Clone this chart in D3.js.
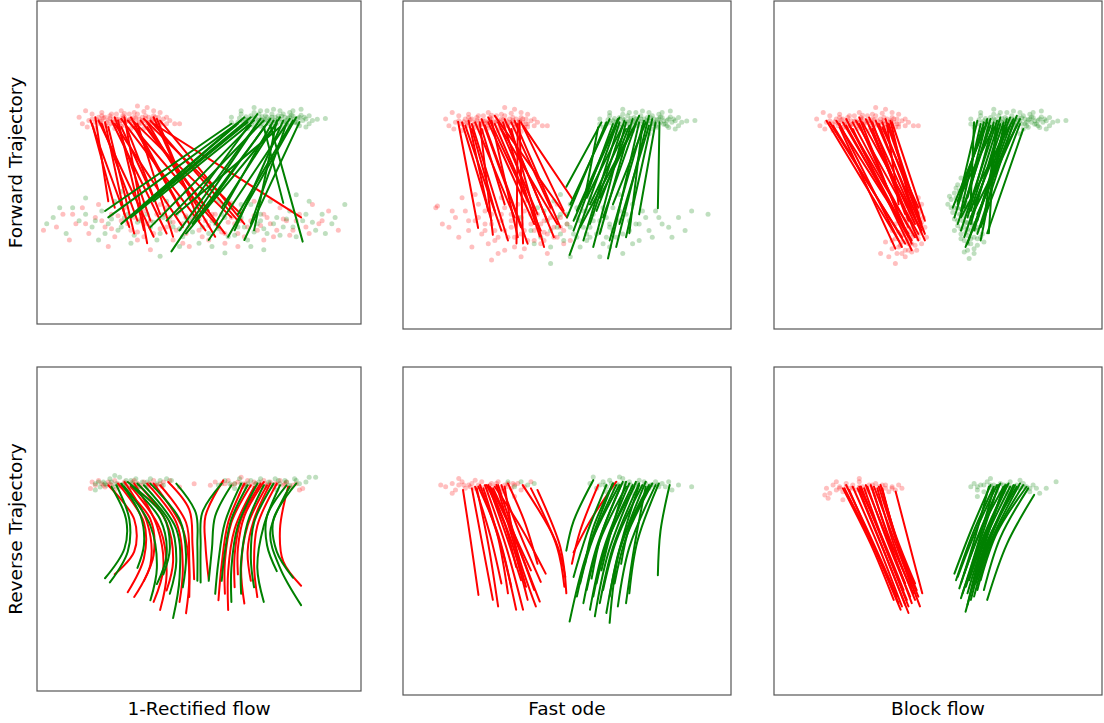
<!DOCTYPE html>
<html>
<head>
<meta charset="utf-8">
<script src="https://cdn.jsdelivr.net/npm/d3@7"></script>
<style>
  body { margin: 0; background: #fff; }
  text { font-family: "DejaVu Sans", sans-serif; }
</style>
</head>
<body>
<svg id="chart" width="1104" height="723"></svg>
<script>
// all values in panel data units: x 0..100 (left->right), y 0..100 (top->bottom)

const rowLabels = ["Forward Trajectory", "Reverse Trajectory"];
const colLabels = ["1-Rectified flow", "Fast ode", "Block flow"];

// source samples, shared by the three forward panels
const srcRed = [[16,37],[17,36.5],[18,37.5],[19,36],[19.5,38],[20,37],[21,36],[21,38.5],[22,37],[22.5,35.5],[23,38],[23.5,36.5],[24,37.5],[24.5,35],[25,36.5],[25.5,38],[26,37],[26.5,35.5],[27,36],[27,38.5],[28,37],[28.5,35],[29,36.5],[29.5,38],[30,36],[30.5,37.5],[31,35],[31,32.5],[31.5,36.5],[32,38],[32.5,36],[33,37],[33.5,35.5],[34,37.5],[34.5,36],[35,38],[35.5,36.5],[36,35.5],[36.5,37],[37,38.5],[37.5,36],[38,37.5],[39,36.5],[40,38],[15,34],[14,38],[15.5,39],[18,39.5],[24,39.5],[34,33],[42.5,38],[44,38],[38,34.5],[29,39.5],[20,34.5],[26,34],[33,39.5],[36,39.8],
  [18.5,36.8],[19.5,37.2],[20.5,36.2],[21.5,37.6],[22.5,36.4],[23.5,37.8],[24.5,36.6],[25.5,37.2],[26.5,36.2],[27.5,37.4],[28.5,36.6],[29.5,37],[30.5,36.2],[31.5,37.8],[32.5,37],[33.5,36.4],[34.5,37.6],[35.5,37],[36.5,36],[37.5,37.4],[20,35.5],[23,35],[27,34.8],[30,34.5],[33,34.2],[36,34],[22,38.6],[26,38.8],[30,38.8],[34,38.6],[38,38.4],[40,36],[41,37],[17,35],[13,36]];
const srcGreen = [[60,36],[62,37.5],[63,35],[64,36.5],[64.5,38],[65,37],[66,35.5],[66.5,38.5],[67,33],[67,36],[68,37.5],[68.5,35],[69,36.5],[69.5,38],[70,37],[70.5,35.5],[71,36],[71.5,38],[72,36.5],[72.5,35],[73,37.5],[73.5,36],[74,38],[74.5,35.5],[75,36.5],[75.5,37.5],[76,35],[76.5,36],[77,37],[77.5,38.5],[78,36],[78.5,37],[79,35.5],[79.5,36.5],[80,37.5],[80.5,38],[81,36],[81.5,33.5],[82,37],[83,36.5],[84,38],[86.5,36.6],[89,36.4],[61,38.5],[65,39.5],[70,39.5],[76,39],[73,33.5],[69,34],[78,34.5],[63,34],[75,40.5],[83,39],
  [62.5,36.2],[63.5,37.2],[64.5,35.8],[65.5,36.6],[66.5,37.4],[67.5,36.2],[68.5,37],[69.5,35.8],[70.5,36.8],[71.5,37.2],[72.5,36],[73.5,37],[74.5,36.4],[75.5,35.6],[76.5,37.4],[77.5,36.2],[78.5,35.4],[79.5,37.6],[80.5,36.4],[81.5,35.4],[82.5,36],[67,34.5],[71,34],[75,34],[79,34],[65,38.6],[69,38.8],[73,38.8],[77,38],[81,38.6],[84,35.5],[85,37],[60,37.5]];

// forward, 1-rectified flow
const rfRedEnd = [[2,71],[8,66],[12,69],[14,64],[16,72],[18,67],[19,63],[21,70],[23,66],[24,73],[26,68],[27,64],[29,71],[30,67],[31,74],[33,65],[34,69],[36,72],[37,66],[38,63],[40,70],[41,67],[42,74],[44,65],[45,69],[46,72],[48,67],[49,64],[50,71],[52,68],[53,74],[54,66],[56,70],[57,63],[58,72],[60,67],[61,69],[63,65],[64,73],[66,68],[67,62],[68,71],[70,66],[72,69],[73,73],[75,64],[77,68],[79,71],[81,66],[83,70],[85,63],[88,68],[90,65],[93,71],[10,74],[22,76],[35,77],[47,76],[55,60],[62,76],[44,61],[28,60],
  [20,68],[23,70.5],[25,66.5],[28,69],[31,71.5],[32,67.5],[35,68],[38,70.5],[39,66],[42,68.5],[43,71],[46,66.5],[47,70],[50,67.5],[51,73],[53,69.5],[55,66],[57,71.5],[59,68.5],[62,72],[63,68],[65,70],[67,66.5],[69,69.5],[71,67],[74,71],[76,67.5],[78,72.5],[80,68],[84,72],[87,69],[15,69],[11,66],[6,70],[33,73],[45,75],[58,75],[70,74],[48,62],[60,62.5],[52,64.5],[40,64]];
const rfGreenEnd = [[5,67],[9,72],[11,64],[13,68],[15,66],[17,70],[20,65],[22,69],[24,62],[25,71],[28,66],[29,75],[32,68],[33,63],[35,70],[37,74],[39,67],[40,62],[42,70],[43,66],[45,73],[47,68],[49,62],[51,70],[52,65],[54,76],[55,69],[57,66],[59,73],[60,64],[62,70],[63,67],[65,74],[66,63],[68,69],[69,66],[71,72],[72,62],[74,67],[76,70],[78,65],[80,73],[82,68],[84,62],[86,71],[88,66],[91,69],[95,63],[38,79],[26,59],[58,78],[70,77],[19,74],[46,59],[80,60],[15,61],
  [18,68],[21,72],[23,67.5],[26,70],[27,67],[30,72.5],[31,68.5],[34,66],[36,68.5],[38,72],[41,68.5],[44,70.5],[46,67],[48,71.5],[50,66.5],[53,72],[54,68],[56,70.5],[58,67],[61,72.5],[62,68],[64,70],[67,71.5],[69,68],[70,70.5],[73,69],[75,72.5],[77,67.5],[79,70],[83,66],[85,68.5],[89,72],[92,67],[7,64],[3,69],[50,75],[44,76],[66,76],[36,61],[56,62],[63,63]];
const rfRedFwd = [[16.5,37,28.5,70],[17,38,24,64],[18,36,22,62],[19,37,36,73],[20,38,31,68],[21,37.5,27,66],[22,39,30,72],[23,37,40,72],[24,38,45,70],[25,37,33,71],[26,36.5,52,71],[26,39,36,61],[27,37.5,38,66],[28,37,56,70],[29,36,47,69],[30,37.5,60,67],[30,39,44,64],[31,38,42,73],[32,37,58,72],[33,36.5,63,66],[34,37.5,55,73],[34,39,53,65],[35,37,62,68],[36,38,81.5,67],[36,36,48,63],[37,36.5,50,68],[38,37,64,69],[27,36,34,75],[24,36,35,68]];
const rfGreenFwd = [[60,38,21,65],[62,38,33,63],[63,37,22,67],[64,36,26,69],[65,37.5,29,67],[66,36,31,65],[66,38.5,35,70],[67,37,36,62],[68,38,41.5,77.5],[68,35,49,61],[69,36.5,44,71],[70,37,40,68],[70,39,76,62.5],[71,38,48,69],[72,36.5,51,66],[72,38.5,82,74.5],[73,37,55,69],[74,38,46,72],[74,37,67,71],[75,36,57,64],[75,39,43,66],[76,37,61,71],[77,38,66,69],[78,36.5,53,74],[79,37,62,66],[80,36,59,73],[81,37.5,64,74]];

// forward, fast ode
const foRedEnd = [[10,63],[10.5,62.5],[14,69],[16,66],[17,72],[19,64],[20,70],[21,75],[22,67],[23,62],[24,71],[25,68],[26,74],[27,65],[28,70],[29,77],[30,67],[31,63],[32,72],[33,69],[34,75],[35,66],[36,71],[37,64],[38,73],[39,68],[40,70],[41,65],[42,74],[43,67],[44,71],[45,63],[46,69],[47,72],[48,66],[49,70],[50,68],[51,73],[22,59],[30,60],[38,61],[27,79],[36,78],[44,77],[18,60],[47,62],[33,65],[41,69],[29,72],[35,62],[25,64],[43,73],
  [23,66],[25,70],[27,68],[28,73],[30,65],[31,70],[33,67],[34,72],[36,68],[37,70],[39,65],[40,73],[42,68],[43,70.5],[45,66],[46,72],[48,69],[49,74],[37,75.5],[31,76],[20,67],[15,64],[12,68],[26,61]];
const foGreenEnd = [[36,66],[39,70],[41,63],[42,72],[44,67],[45,75],[46,61],[47,69],[48,65],[49,73],[50,68],[51,62],[52,71],[53,66],[54,75],[55,69],[56,64],[57,72],[58,67],[59,61],[60,70],[61,74],[62,66],[63,69],[64,63],[65,72],[66,67],[67,77],[68,65],[69,70],[70,62],[71,68],[72,73],[74,66],[75,70],[77,64],[79,68],[82,72],[84,66],[93,65],[45,80],[51,78],[60,78],[48,59],[57,60],[66,59],[63,75],[40,74],[56,71],[53,63],
  [43,64],[45,70],[47,66],[48,71],[50,65],[51,69],[53,72],[54,67],[55,64],[56,73],[57,69],[58,65],[59,71],[60,67],[61,63],[62,72],[63,68],[64,70],[66,64],[67,71],[69,67],[70,74],[72,68],[73,64],[76,72],[78,66],[81,69],[86,70],[88,64]];
const foRedFwd = [[16.8,36.8,22.9,69.2],[18,37,27,67],[19,38,30,70],[20,36.5,26,64],[21,37.5,32,73],[22,37,34,66],[23.4,37,27.4,71.3],[24,36,36,69],[25,38,38,74],[26,37,40,68],[27,36.5,35,72],[28,37.5,42,70],[29,37,41,65],[30.5,37,41.7,71.8],[31,36,44,67],[32,38,46,72],[33,37,45,63],[34,36.5,48,69],[35,37.5,34.6,73.9],[35.5,36.5,36.6,73.9],[36,37,49,64],[36.6,38,51.8,60.6],[30,39,47,68],[28,35,50,66],[24,39,31,62],[33,39,43,75],[26,35.5,38,61],[21,39,28,64]];
const foGreenFwd = [[60.5,37,49.8,56.6],[59.5,38.5,55.8,58],[62,37,50,66],[63,36,51,62],[64,37.5,52,70],[65,38,50.8,77.4],[65.5,36,53,64],[66,37,55,73],[67,38,56,60],[67.5,36.5,57,68],[68,37,58,75],[69,38,59,64],[70,36,60,71],[71,37.5,61,66],[72,37,62.5,78.5],[73,38,69,70.8],[73.5,36.5,63,73],[74,37,64,62],[75,38,66,68],[76,36,68,72],[77,37,72,65],[78.2,37,77.7,63.2],[70,39,54,69],[68,39,57,62],[72,35,60,60],[66,35.5,52,67],[75,35,65,75]];

// forward, block flow
const bfRedEnd = [[44,60],[43,61.5],[45,62],[42,63],[44.5,64],[41,64.5],[43,65.5],[45.5,66],[40,66.5],[42,67],[44,68],[39,68.5],[41,69],[43,70],[45,70],[38,70.5],[40,71],[42,72],[44,72.5],[37,72.5],[39,73.5],[41,74],[43,74.5],[38,75],[40,76],[36,75.5],[42,76.5],[39,77],[35,78],[37,80],[32.5,77],[46,69],[46.5,72],[45,74],[41,66],[38,67],[43,63],[40,62.5],[36,70],[37,68],[34,73.5],[42,69.5],[44,66.5],[39,71.5],[41,72.5],[43,71.5],
  [42.5,61],[44,62.5],[41.5,65],[44,65],[42.5,66.5],[40.5,67.5],[43.5,67],[45,67.5],[41.5,70.5],[42.5,71],[39.5,70],[44,71],[40.5,73],[42,74],[38.5,74.5],[41,76],[37.5,77],[40,78],[36,73],[43.5,76]];
const bfGreenEnd = [[57,54],[56,56],[58,57],[55,58.5],[57,59.5],[54,60.5],[56,61],[58.5,61.5],[53,62],[55,63],[57,63.5],[59,63],[54.5,64.5],[56.5,65],[58,65.5],[60,66],[55,66.5],[57.5,67],[59,67.5],[61,68],[56,68.5],[58,69],[60,70],[62,70],[57,71],[59,71.5],[61,72],[58,73],[60,74],[62,74.5],[59,76],[61,75.5],[59.5,78.5],[63,72],[64,73.5],[53.5,59.5],[55.5,57],[62,69],[63.5,71],[57,72.5],[59,69.5],[60.5,68.5],
  [56.5,58],[57.5,60.5],[55.5,60],[58,62.5],[56,63],[54,63],[57,65],[59,64.5],[56,67],[58.5,67.5],[60,67.5],[57,69.5],[61,69.5],[58.5,70.5],[60,72.5],[62,72.5],[59,74],[61,77],[58,76.5],[55,70]];
const bfRedFwd = [[16,36.5,38,73],[17,37,39,72],[18,38,40,74],[19,36.5,41,71],[20,37.5,39,75],[21,37,42,73],[22,36,40,70],[23,38,43,72],[24,37,41,69],[25,36.5,44,71],[26,37.5,42,74],[27,37,45,70],[28,36,43,68],[29,38,44,73],[30,37,41,67],[31,36.5,45,69],[32,37.5,43,66],[33,37,46,71],[34,36,44,65],[35,37.5,45,68],[35.5,36.5,42,64],[36,37,46,67],[34.5,38,38,62],[30,39,40,65],[26,35.5,39,68],[20,38.5,37,75.5],[24,39,42,76],[29,35.5,46,73],[33,38.5,44,63],[22,38,41,72]];
const bfGreenFwd = [[61,37,60,60.5],[62,36.5,56,62],[63,37.5,57,64],[64,37,55,66],[65,36,58,63],[66,38,56,68],[67,37,59,66],[68,36.5,57,70],[69,37.5,60,68],[70,37,58,72],[71,36,61,70],[72,38,59,74],[73,37,62,71],[74,35,58.4,75],[75,37.5,63,69],[76,39,65,70.8],[67,38.5,56,61],[69,35.5,60,64],[71,38.5,62,67],[73,36,57,66],[65,37,54.5,63],[70,38,63,73],[72,35.5,61,62],[68,39,64,67],[64,38.5,57,58],[66,36,59,60],[74,38,62,65],[75,36,60,66],[67.6,38,65.5,70.8]];

// reverse, 1-rectified flow (end samples + curves: start, two bends, end)
const rfRedRev = [[17,35.5],[18,36.5],[19,35],[20,36],[21,37],[22,35.5],[23,36.5],[24,35],[25,36],[26,37],[27,35.5],[28,36],[29,37],[30,35],[31,36],[32,36.5],[33,35.5],[34,37],[35,36],[36,35],[37,36.5],[38,36],[39,35.5],[41,35],[48.5,36],[53.5,36.5],[16.5,37.5],[24,37.8],[55,35.5],[57,36],[59,35],[60,36.5],[62,35.5],[63,37],[64,36],[65,35],[66,36.5],[67,35.5],[68,37],[69,36],[70,35],[71,36.5],[72,35.5],[73,37],[74,36],[75,35],[76,36.5],[77,35.5],[78,37],[80,36],[81,38],[82,37.5],
  [20.5,36.5],[22.5,36],[25.5,36.5],[27.5,36.8],[29.5,35.5],[31.5,36.8],[34.5,36],[36.5,36.5],[38.5,36.8],[58,36],[61,36],[64.5,36.5],[67.5,36],[70.5,36],[73.5,36],[76.5,36],[79,36.5],[44,37],[63,34]];
const rfGreenRev = [[18,36],[19.5,37],[20.5,35.5],[21.5,36.5],[22.5,34.5],[23.5,37],[24.5,36],[25.5,34],[26.5,36.5],[27.5,35],[28.5,37.5],[29.5,36],[30.5,34.5],[31.5,37],[32.5,35.5],[33.5,36.5],[35,34.5],[36.5,37],[38,35],[40,34.5],[41.5,35],[24,33.5],[18,38],[56,36.5],[58,35],[61,36],[62.5,34.5],[64,37],[66,35],[67.5,36],[69,34.5],[70.5,37],[72,36],[73.5,34.5],[75,36],[76.5,35],[78,36.5],[79.5,34.5],[81,36],[83,35.5],[86,34],[74,38],[68,38],[61,37.5],
  [19,35.5],[21,36],[23,35.5],[25,36.5],[27,36],[29,35],[31,36],[34,35.5],[37,36],[39,36.5],[59.5,36],[63,36],[65,36],[68.5,35.5],[71.5,35.5],[74.5,35],[77,35.5],[80,35],[84,34]];
const rfRedCurves = [[28,69.5,33,59,33,48,25,36],[24,64,30,57,30,47,22,36.5],[30,71,35,61,34,48,27,35.5],[36,72.5,39,62,37,49,30,36],[40,69,42,60,40,48,32,37],[44,72.5,45,62,43,48,34,36],[47,71,47,60,46,48,38,36.5],[48.5,65.5,48,55,47,44,40.5,35.5],[33,66,36,58,35,47,26,36.5],[38,75,40,64,38,50,29,37],[46,76,47,64,45,50,36,36],[53,65.5,52,55,52,46,57.5,35],[56,72,57,61,59,48,64,36],[58,70,58,60,60,48,66,36.5],[61,68,61,58,63,47,69,36],[64,73,63,62,65,49,71,36.5],[62,64,62,56,64,46,70,35.5],[66,66,65,57,67,47,72,36],[81.5,67.5,76,60,75,50,77.5,37],[59,75,59,63,61,50,67,37],[68,71,67,61,68,49,74,36]];
const rfGreenCurves = [[21,65.2,27,56,27.5,47,23,37],[22.5,66.5,28,57,28.5,47,24.5,36.5],[31,62,33,55,32,46,26,36],[37,67,40,58,38,47,29,36.5],[41,70,43,60,41,48,31,36],[42,77.5,44,65,43,50,33,36.5],[45,68,46,58,44,47,35,36],[49.5,66,49.5,55,49,45,43,36],[39,64,41,56,39,46,28,35.5],[35,72,37,62,35,49,27,37],[50.5,66.5,50.5,55,51,45,57,36],[53,66,54,56,55,46,60,36.5],[55,70,56,60,58,48,63,36],[57,66,58,57,60,47,65,36.5],[60,72.5,60,62,62,49,68,36],[63,70,63,60,65,48,70,36.5],[67,68,66,59,67,48,73,36],[70,72.5,68,62,70,49,75,36.5],[81.5,73.5,75,62,72,51,78,37],[79,65,74,57,73,47,80,36],[74,63,71,55,71,46,77,36.5]];

// reverse, fast ode (curves: start, bend, end)
const foRedRev = [[11.5,36],[13,36.5],[15,35.5],[16,37.5],[17,36],[18,35],[19,37],[20,36],[21,35.5],[22,37],[23,36],[24,35],[25,36.5],[26,37.5],[27,35.5],[28,36.5],[29,35],[30,37],[31,36],[32,35.5],[33,37],[34,36],[35,35.5],[36,37.5],[37,36.5],[39,35],[15,38.5],[25,39],[17,34],[34,39.5],
  [18.5,36],[20.5,36.5],[23.5,36.5],[26.5,36],[28.5,35.5],[31.5,36.5],[33.5,35.5],[22,34.5],[30,38]];
const foGreenRev = [[57,35.5],[58,33.5],[59,37],[60,36],[61,35],[62,36.5],[63,34.5],[64,37],[65,35.5],[66,36],[67,34],[68,36.5],[69,35],[70,37],[71,36],[72,34.5],[73,36.5],[74,35.5],[75,37],[76,36],[77,35],[78,36.5],[79,35.5],[80,36.5],[81,35],[82,37.5],[84,36],[88,36.5],[32,35],[34,36.5],[36,35],[38,36],[40,35.5],[66,33.5],
  [61.5,36],[63.5,35.5],[65.5,36.5],[67.5,35.5],[69.5,36],[71.5,35.5],[73.5,35],[75.5,36],[77.5,36],[62,38],[70,38.5]];
const foRedCurves = [[23,69.5,20.5,52,18.3,37.5],[27.4,71,24,53,21,37],[30,66,26.5,51,22,36.5],[34.5,74,30,55,23.5,36],[36.6,74,31.5,55,25,36],[32,69,29,52,24.5,37],[38,71,33,53,26.5,36.5],[40,68,34,52,27,37],[41.7,71.5,35,54,29,36],[43.5,63,36,49,28,36.5],[36,65,31,50,26,36],[39,62,33,49,27.5,37],[42,65.5,35.5,50.5,30,36],[33,67,29,51,23,36.5],[29,73,26,54,22.5,37],[37.5,67,33,51,28.5,36],[40.5,73,34.5,55,31,36.5],[34.5,61,31,48,25.5,36],[41,60,37,47,32,35.5],[49.8,69,48,55,41,37.5],[49.2,67,47,55,39,37],[49.5,64,46.5,53,36.5,36],[51.5,60,54,50,59.5,36],[52,56.5,57,47,65,35]];
const foGreenCurves = [[50.8,77.6,56,57,65,36],[49.8,56,52,47,58,34.5],[52,64,56,51,62,36],[53,70,57,54,64,35.5],[54,66,58,52,66,36],[55,72,59,55,67,35],[56,68,60,53,68,36.5],[57,74,61,56,69,35.5],[58,70,62,54,70,36],[58.5,76,62.5,57,71,35],[59,66,63,51.5,70.5,36.5],[60,72,64,55,72,35.5],[61,68,65,53,73,36],[62,75,66,56,74,35],[63,70,66.5,54,75,36],[64.5,66,68,52,76,35.5],[65.5,73,69,55,77,36],[68,72,70.5,55,74,36.5],[69,69,71.5,53,78,35.5],[77.7,63.5,78.5,50,81.3,36],[60.5,62,63.5,50,68,35],[55.5,60,58,49,64,35.5],[63,78,65.5,58,72,36],[57.5,64.5,60.5,51,66.5,36],[66.5,60,69,49,75,36.5]];

// reverse, block flow
const bfRedRev = [[15.5,39],[16,37],[17,38.5],[18,36],[19,37.5],[20,36.5],[21,38],[22,35.5],[23,37],[24,36],[25,37.5],[26,35],[27,36.5],[28,38],[29,36],[30,37],[31,35.5],[32,37.5],[33,36],[34,37],[35,38],[36,36.5],[37,37.5],[38,36],[39,37],[16.5,40],[21,40.5],[26,34],[31,39],[19,35],
  [20,37],[22,36.5],[24,37],[26,36.5],[28,37],[30,36],[32,36.5],[34,36],[36,37]];
const bfGreenRev = [[60,36.5],[61,35.5],[62,37.5],[63,36],[64,38],[65,35],[66,37],[67,36],[68,38],[69,35.5],[70,37],[71,36],[72,35],[73,37.5],[74,36],[75,37],[76,35.5],[77,36.5],[78,38],[79,36],[80,37],[81,38.5],[83,37],[86,35],[62,39.5],[66,34],[71,38.5],[75,34.5],
  [62,36.5],[64,36],[66,36],[68,36.5],[70,36],[72,36.5],[74,37],[76,36.5],[78,37]];
const bfRedCurves = [[38.6,74,31,56,22.9,37.5],[38,72,30.5,55,21.5,37],[39,73,32,55,24,36.5],[40,72.5,33,55,25.5,37],[40.5,71,33.5,54,26.5,36.5],[41,73,34,55,27.5,37],[41.5,70,34.5,53,28.5,36.5],[42,72,35.5,54,30,37],[42.5,69,35.5,53,29.5,36],[43,71,36.5,54,31.5,37],[43.5,68,37,52,32,36.5],[44,70,37.5,53,33,37],[45.2,69,41,53,37.1,38],[39.5,68,33,52,26,36.5],[37.5,70,30,53,22,36],[40,66,34,51,28,36],[42,67,36,51,30.5,36.5],[41,75,33.5,56,26,37.5],[44.5,73,38,55,33,37.5],[43,66,37,51,32.5,36],[36.5,71,29.5,54,21,37]];
const bfGreenCurves = [[58.4,74.6,64,55,70,36.5],[55,63,60,50,66,36],[55.5,65,60.5,51,67,36.5],[56,64,61.5,50,68,36],[57,66,62,52,69,35.5],[58,63,63,50,70,36.5],[58.5,67,63.5,52.5,71,36],[59,69,64,53.5,72,36.5],[59.5,65,64.5,51,71.5,35.5],[60,71,65,54,73,36],[60.5,67,65.5,52,74,36.5],[61,70,66,53.5,75,35.5],[62,68,67,52,76,36],[63,65,68,50.5,77,36.5],[65,71,71,54,79.3,39],[57.5,69,62.5,54,68.5,36],[56.5,67.5,61,53,65.5,36.5],[59,72.5,63.5,55,70.5,36],[61.5,66,66.5,51,73.5,36],[64,68,69,52,77.5,37],[57,70.5,62,54.5,67,37]];

const RED = "#ff0000", GREEN = "#008000";

const panels = [
  { row: 0, col: 0, clouds: [[srcRed, RED], [srcGreen, GREEN], [rfRedEnd, RED], [rfGreenEnd, GREEN]], paths: [[rfRedFwd, RED], [rfGreenFwd, GREEN]] },
  { row: 0, col: 1, clouds: [[srcRed, RED], [srcGreen, GREEN], [foRedEnd, RED], [foGreenEnd, GREEN]], paths: [[foRedFwd, RED], [foGreenFwd, GREEN]] },
  { row: 0, col: 2, clouds: [[srcRed, RED], [srcGreen, GREEN], [bfRedEnd, RED], [bfGreenEnd, GREEN]], paths: [[bfRedFwd, RED], [bfGreenFwd, GREEN]] },
  { row: 1, col: 0, clouds: [[rfRedRev, RED], [rfGreenRev, GREEN]], paths: [[rfRedCurves, RED], [rfGreenCurves, GREEN]] },
  { row: 1, col: 1, clouds: [[foRedRev, RED], [foGreenRev, GREEN]], paths: [[foRedCurves, RED], [foGreenCurves, GREEN]] },
  { row: 1, col: 2, clouds: [[bfRedRev, RED], [bfGreenRev, GREEN]], paths: [[bfRedCurves, RED], [bfGreenCurves, GREEN]] }
];

// axes boxes per row/col
const colLeft = [37, 403, 774];
const colWidth = [324, 328, 328];
const rowTop = [1, 367];
const labelBaseline = 714.5;

const svg = d3.select("#chart");

function boxOf(p) {
  return { x: colLeft[p.col], y: rowTop[p.row], w: colWidth[p.col], h: colWidth[p.col] - (p.col === 0 && p.row === 0 ? 1 : 0) };
}

const pairs = (flat) => d3.range(0, flat.length, 2).map((i) => [flat[i], flat[i + 1]]);

panels.forEach((p) => {
  const b = boxOf(p);
  const x = d3.scaleLinear().domain([0, 100]).range([b.x, b.x + b.w]);
  const y = d3.scaleLinear().domain([0, 100]).range([b.y, b.y + b.h]);
  const g = svg.append("g");

  p.clouds.forEach(([pts, color]) => {
    g.append("g")
      .selectAll("circle")
      .data(pts)
      .join("circle")
      .attr("cx", (d) => x(d[0]))
      .attr("cy", (d) => y(d[1]))
      .attr("r", 2.5)
      .attr("fill", color)
      .attr("fill-opacity", 0.25);
  });

  const line = d3.line()
    .x((d) => x(d[0]))
    .y((d) => y(d[1]))
    .curve(d3.curveCatmullRom.alpha(0.5));

  p.paths.forEach(([list, color]) => {
    g.append("g")
      .selectAll("path")
      .data(list)
      .join("path")
      .attr("d", (d) => line(pairs(d)))
      .attr("fill", "none")
      .attr("stroke", color)
      .attr("stroke-width", 2)
      .attr("stroke-linecap", "round");
  });

  g.append("rect")
    .attr("x", b.x)
    .attr("y", b.y)
    .attr("width", b.w)
    .attr("height", b.h)
    .attr("fill", "none")
    .attr("stroke", "#555")
    .attr("stroke-width", 1.2);

  if (p.row === 1) {
    g.append("text")
      .attr("x", b.x + b.w / 2)
      .attr("y", labelBaseline)
      .attr("text-anchor", "middle")
      .style("font-size", "18.5px")
      .text(colLabels[p.col]);
  }
  if (p.col === 0) {
    g.append("text")
      .attr("transform", `translate(22,${b.y + b.h / 2}) rotate(-90)`)
      .attr("text-anchor", "middle")
      .style("font-size", "18.5px")
      .text(rowLabels[p.row]);
  }
});
</script>
</body>
</html>
